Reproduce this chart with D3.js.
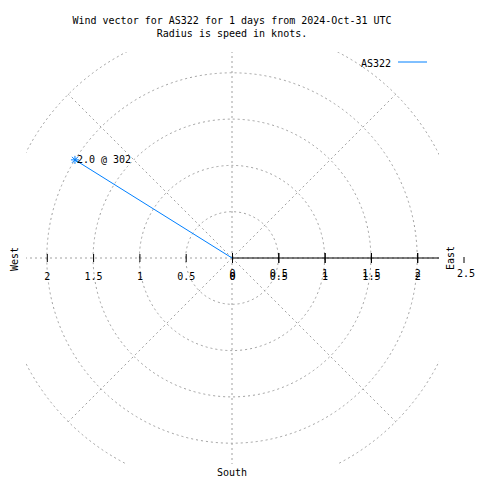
<!DOCTYPE html>
<html><head><meta charset="utf-8">
<script src="https://cdn.jsdelivr.net/npm/d3@7"></script>
<style>
body{margin:0;background:#fff}
text{font-family:"DejaVu Sans Mono","Liberation Mono",monospace;font-size:10px;fill:#000}
</style>
</head><body><svg id="c" width="480" height="480"></svg>
<script>
const titleLines = ["Wind vector for AS322 for 1 days from 2024-Oct-31 UTC", "Radius is speed in knots."];
const stations = ["AS322"];
const speeds = [2.0];
const directions = [302];
const ringValues = [0.5, 1, 1.5, 2, 2.5];
const spokeAngles = [0, 45, 90, 135, 180, 225, 270, 315];
const tickValues = [0, 0.5, 1, 1.5, 2];
const outerTick = [2.5];
const seriesColor = "#0080ff";

const cx = 232, cy = 258;
const rMax = 2.5;
const r = d3.scaleLinear().domain([0, rMax]).range([0, 231.5]);
const xRight = d3.scaleLinear().domain([0, rMax]).range([0, 231.5]);
const xLeft = d3.scaleLinear().domain([0, rMax]).range([0, -231.5]);
const px = (a, v) => Math.sin(a * Math.PI / 180) * r(v);
const py = (a, v) => -Math.cos(a * Math.PI / 180) * r(v);

const svg = d3.select("#c");
svg.append("rect").attr("width", 480).attr("height", 480).attr("fill", "#fff");
svg.append("defs").append("clipPath").attr("id", "clip")
  .append("rect").attr("x", 26).attr("y", 52).attr("width", 413).attr("height", 412);

// Title
svg.append("g").selectAll("text").data(titleLines).join("text")
  .attr("x", cx).attr("y", (d, i) => 24 + i * 13)
  .attr("text-anchor", "middle").text(d => d);

// Grid
const gridOuter = svg.append("g").attr("clip-path", "url(#clip)");
const grid = gridOuter.append("g").attr("transform", `translate(${cx},${cy})`)
  .attr("fill", "none").attr("stroke", "#a0a0a0").attr("stroke-dasharray", "2,3");
grid.selectAll("circle").data(ringValues).join("circle")
  .attr("r", d => r(d));
grid.selectAll("line").data(spokeAngles).join("line")
  .attr("x1", 0).attr("y1", 0)
  .attr("x2", d => px(d, rMax)).attr("y2", d => py(d, rMax));

const g = svg.append("g").attr("transform", `translate(${cx},${cy})`);

// Left axis (ticks + single labels)
const leftAxis = g.append("g").call(d3.axisBottom(xLeft).tickValues(tickValues).tickSize(4).tickFormat(d3.format("")));
leftAxis.select(".domain").remove();
leftAxis.selectAll(".tick line").attr("y1", -4).attr("y2", 4).attr("stroke", "#000");
leftAxis.selectAll(".tick text").attr("y", 22).attr("dy", 0)
  .style("font-family", "DejaVu Sans Mono").style("font-size", "10px");

// Right axis (solid) with doubled labels
g.append("line").attr("x1", 0).attr("x2", 207).attr("y1", 0).attr("y2", 0).attr("stroke", "#000");
[19, 22].forEach((yy, k) => {
  const ax = g.append("g").call(d3.axisBottom(xRight).tickValues(tickValues).tickSize(5).tickFormat(d3.format("")));
  ax.select(".domain").remove();
  ax.selectAll(".tick line").attr("y1", -5).attr("y2", 5).attr("stroke", "#000");
  ax.selectAll(".tick text").attr("y", yy).attr("dy", 0)
    .style("font-family", "DejaVu Sans Mono").style("font-size", "10px");
});
const outer = g.append("g").call(d3.axisBottom(xRight).tickValues(outerTick).tickSize(5).tickFormat(d3.format("")));
outer.select(".domain").remove();
outer.selectAll(".tick line").attr("y1", -1).attr("y2", 5).attr("stroke", "#000");
outer.selectAll(".tick text").attr("y", 19).attr("dy", 0).attr("dx", 2)
  .style("font-family", "DejaVu Sans Mono").style("font-size", "10px");

// Compass labels
svg.append("text").attr("transform", "translate(18,259) rotate(-90)").attr("text-anchor", "middle").text("West");
svg.append("text").attr("transform", "translate(454,258) rotate(-90)").attr("text-anchor", "middle").text("East");
svg.append("text").attr("x", cx).attr("y", 476).attr("text-anchor", "middle").text("South");

// Data vectors
const pts = stations.map((s, i) => ({ s, v: speeds[i], a: directions[i] }));
const vg = g.append("g");
vg.selectAll("line.vec").data(pts).join("line").attr("class", "vec")
  .attr("x1", 0).attr("y1", 0)
  .attr("x2", d => px(d.a, d.v)).attr("y2", d => py(d.a, d.v))
  .attr("stroke", seriesColor).attr("stroke-width", 1);
const star = (x, y, s) => `M${x - s},${y}H${x + s}M${x},${y - s}V${y + s}M${x - s * 0.75},${y - s * 0.75}L${x + s * 0.75},${y + s * 0.75}M${x - s * 0.75},${y + s * 0.75}L${x + s * 0.75},${y - s * 0.75}`;
vg.selectAll("path.pt").data(pts).join("path").attr("class", "pt")
  .attr("d", d => star(px(d.a, d.v), py(d.a, d.v), 4))
  .attr("stroke", seriesColor).attr("stroke-width", 1).attr("fill", "none");
vg.selectAll("text.lab").data(pts).join("text").attr("class", "lab")
  .attr("x", d => px(d.a, d.v) + 2).attr("y", d => py(d.a, d.v) + 3)
  .text(d => `${d3.format(".1f")(d.v)} @ ${d.a}`);

// Legend
const lg = svg.append("g");
lg.selectAll("text").data(stations).join("text")
  .attr("x", 391).attr("y", (d, i) => 67 + i * 12).attr("text-anchor", "end").text(d => d);
lg.selectAll("line").data(stations).join("line")
  .attr("x1", 398).attr("x2", 427).attr("y1", (d, i) => 62 + i * 12).attr("y2", (d, i) => 62 + i * 12)
  .attr("stroke", seriesColor).attr("stroke-width", 1);
</script></body></html>
